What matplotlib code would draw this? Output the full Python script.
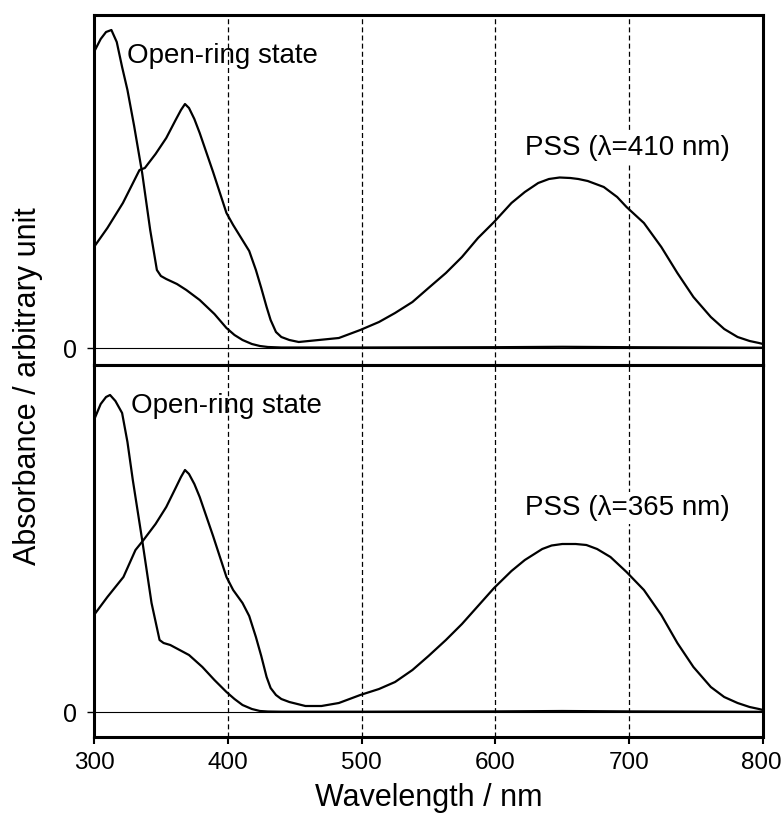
import matplotlib
matplotlib.use("Agg")
import matplotlib.pyplot as plt
import matplotlib.transforms as mtransforms

plt.rcParams['font.family'] = ['Liberation Sans', 'DejaVu Sans']

# ---- data (absorbance in arbitrary units) ----
# top panel, open-ring state
wl_open_top = [300, 305, 309, 313, 317, 321, 325, 330, 336, 342, 347, 350, 354,
               362, 369, 379, 390, 399, 405, 411, 418, 424, 430, 440, 500, 600, 650, 700, 800]
ab_open_top = [296, 309, 316, 318, 306, 281, 258, 222, 175, 118, 78, 72, 69,
               64, 58, 48, 34, 20, 13, 8, 4, 2, 1, 0.5, 0.5, 0.8, 1.2, 0.8, 0.3]

# top panel, PSS (410 nm)
wl_pss_top = [300, 310, 321.6, 328, 334, 338, 346, 354, 361, 365, 368, 371, 375, 379, 389,
              399, 404, 410, 416, 421, 425, 429, 432, 436, 440, 446, 453, 468, 483, 499, 513,
              525, 538, 550, 563, 575, 587, 599, 612, 622, 632, 640, 648, 656, 662, 669, 681,
              691, 698, 711, 724, 736, 748, 761, 771, 781, 790, 797, 800]
ab_pss_top = [101, 120, 145, 162, 178, 180, 194, 210, 228, 238, 244, 240, 229, 215, 176,
              135, 123, 110, 97, 78, 60, 41, 28, 16, 11, 8, 6, 8, 10, 18, 26,
              35, 46, 60, 75, 91, 110, 126, 145, 156, 165, 169, 170.5, 170, 169, 167, 161,
              151, 141, 125, 101, 75, 51, 31, 19, 11, 7, 5, 4]

# bottom panel, open-ring state
wl_open_bot = [300, 305, 309, 312, 316, 321, 325, 329, 336, 343, 349, 352, 357,
               364, 371, 381, 390, 399, 405, 411, 418, 424, 430, 440, 500, 600, 650, 700, 800]
ab_open_bot = [292, 308, 315, 317, 311, 299, 270, 232, 172, 109, 72, 69, 67,
               62, 57, 45, 32, 20, 13, 7, 3, 1, 0.5, 0.3, 0.3, 0.6, 1.0, 0.6, 0.2]

# bottom panel, PSS (365 nm)
wl_pss_bot = [300, 310, 322, 331, 337, 346, 354, 361, 365, 368, 371, 375, 379, 389,
              399, 404, 411, 416, 421, 425, 429, 432, 436, 440, 446, 458, 470, 483, 499, 513,
              525, 538, 550, 563, 575, 587, 599, 612, 622, 635, 642, 650, 660, 668, 676, 686,
              698, 711, 724, 736, 748, 761, 771, 781, 790, 797, 800]
ab_pss_bot = [97, 115, 135, 162, 172, 188, 205, 224, 235, 242, 238, 228, 215, 176,
              135, 122, 109, 96, 75, 56, 35, 24, 17, 13, 10, 6, 6, 9, 17, 23,
              30, 42, 56, 72, 88, 106, 124, 141, 152, 163, 166.5, 168, 168, 167, 163, 155,
              140, 122, 97, 69, 45, 25, 15, 9, 5, 3, 2]

grid_x = [400, 500, 600, 700]
x_ticks = [300, 400, 500, 600, 700, 800]

W, H = 783, 821
L, R = 94, 763
fig = plt.figure(figsize=(W / 100, H / 100), dpi=100)

ax_top = fig.add_axes([L / W, 1 - 365 / H, (R - L) / W, 350 / H])
ax_bot = fig.add_axes([L / W, 1 - 737 / H, (R - L) / W, 372 / H])

panels = [
    (ax_top, wl_open_top, ab_open_top, wl_pss_top, ab_pss_top, (-17, 333),
     (324.5, 285), (622, 193), 'PSS (λ=410 nm)'),
    (ax_bot, wl_open_bot, ab_open_bot, wl_pss_bot, ab_pss_bot, (-25, 347),
     (328, 299), (622, 197), 'PSS (λ=365 nm)'),
]

for ax, wo, ao, wp, ap, ylim, pos_open, pos_pss, pss_label in panels:
    for gx in grid_x:
        ax.axvline(gx, color='black', lw=0.9, dashes=(4, 2.5), zorder=1)
    ax.axhline(0, color='black', lw=0.8, zorder=2)
    ax.plot(wo, ao, color='black', lw=1.6, zorder=3, solid_joinstyle='round')
    ax.plot(wp, ap, color='black', lw=1.6, zorder=3, solid_joinstyle='round')
    ax.set_xlim(300, 800)
    ax.set_ylim(*ylim)
    ax.set_yticks([0])
    ax.set_yticklabels(['0'])
    ax.tick_params(axis='y', direction='out', length=5, width=1, labelsize=18, pad=7)
    for sp in ax.spines.values():
        sp.set_linewidth(2.2)
    ax.text(pos_open[0], pos_open[1], 'Open-ring state', fontsize=20,
            ha='left', va='baseline', zorder=4)
    ax.text(pos_pss[0], pos_pss[1], pss_label, fontsize=20, ha='left',
            va='baseline', zorder=4,
            bbox=dict(facecolor='white', edgecolor='none', pad=2))

ax_top.set_xticks([])
ax_bot.set_xticks(x_ticks)
ax_bot.tick_params(axis='x', direction='out', length=5, width=1.5, labelsize=17.5, pad=6)
ax_bot.set_xlabel('Wavelength / nm', fontsize=22, labelpad=6)

# nudge the last tick label so it stays inside the picture
last = ax_bot.get_xticklabels()[-1]
last.set_transform(last.get_transform() +
                   mtransforms.ScaledTranslation(-2 / 100, 0, fig.dpi_scale_trans))

fig.text(28 / W, 1 - 386 / H, 'Absorbance / arbitrary unit', fontsize=22,
         rotation=90, ha='center', va='center')

fig.savefig('out.png', dpi=100)
